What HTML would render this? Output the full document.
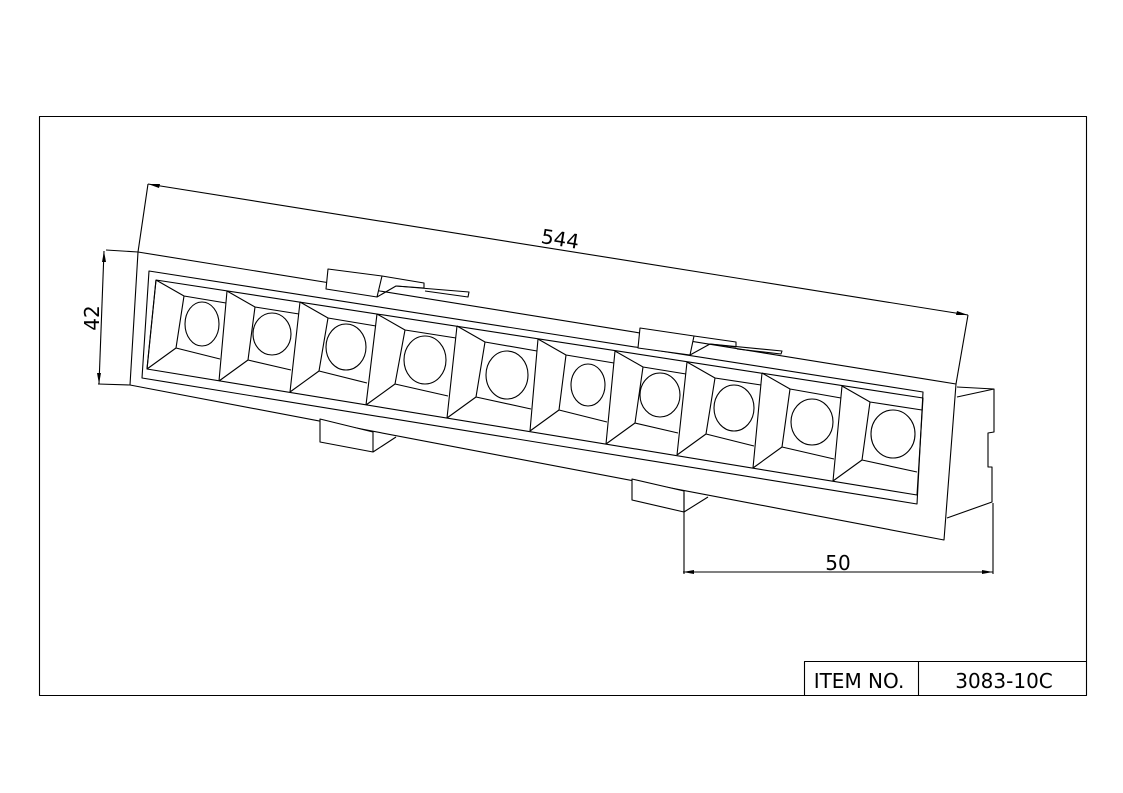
<!DOCTYPE html>
<html><head><meta charset="utf-8"><style>
html,body{margin:0;padding:0;background:#fff;}
svg{display:block;}
text{font-family:"DejaVu Sans","Liberation Sans",sans-serif;fill:#000;}
</style></head><body>
<svg width="1123" height="793" viewBox="0 0 1123 793" xmlns="http://www.w3.org/2000/svg">
<g fill="none" stroke="#000" stroke-width="1.1" stroke-linejoin="round">
<rect x="39.5" y="116.5" width="1047" height="579"/>
<polyline points="804.5,695 804.5,661.5 1086,661.5"/>
<line x1="918.5" y1="661.5" x2="918.5" y2="695"/>

<polygon points="138,252 956,384 944,540 130,385" fill="#fff"/>
<polygon points="149,271 923,392 917,504 142,378"/>
<polygon points="156,280 923,398 917,495 147,369"/>

<polyline points="957,387 994,389 994,432 988,433 988,467 992,467 992,502 947,518"/>
<line x1="957" y1="397" x2="994" y2="389"/>

<polygon points="328,269 382,276 377,297 326,289" fill="#fff"/>
<polyline points="382,276 424,283 424,288 396,286 377,297"/>
<polyline points="396,286 469,292 468,297 425,291"/>
<polygon points="640,328 694,336 690,355 638,348" fill="#fff"/>
<polyline points="694,336 736,342 736,347 710,344 690,355"/>
<polyline points="710,344 782,351 781,354 737,349"/>

<polygon points="320,419 373,432 373,452 320,442" fill="#fff"/>
<line x1="373" y1="452" x2="396" y2="437"/>
<polygon points="632,479 684,491 684,512 632,500" fill="#fff"/>
<line x1="684" y1="512" x2="708" y2="497"/>

<g>
<path d="M156,280L147,369M156,280L184,296L176,348L147,369M184,296L226,303M176,348L220,359"/>
<ellipse cx="202" cy="324" rx="17" ry="22"/>
<path d="M227,291L219,381M227,291L255,307L248,360L219,381M255,307L299,314M248,360L291,370"/>
<ellipse cx="272" cy="334" rx="19" ry="21"/>
<path d="M300,302L290,392M300,302L328,318L319,371L290,392M328,318L376,326M319,371L367,383"/>
<ellipse cx="346" cy="347" rx="20" ry="23"/>
<path d="M377,314L366,405M377,314L405,330L395,384L366,405M405,330L456,338M395,384L448,396"/>
<ellipse cx="425" cy="360" rx="21" ry="24"/>
<path d="M457,326L447,418M457,326L485,342L476,397L447,418M485,342L537,351M476,397L531,409"/>
<ellipse cx="507" cy="375" rx="21" ry="24"/>
<path d="M538,339L530,431M538,339L566,355L559,410L530,431M566,355L614,363M559,410L607,422"/>
<ellipse cx="588" cy="385" rx="17" ry="21"/>
<path d="M615,351L606,444M615,351L643,367L635,423L606,444M643,367L686,374M635,423L678,433"/>
<ellipse cx="660" cy="395" rx="20" ry="22"/>
<path d="M687,362L677,455M687,362L715,378L706,434L677,455M715,378L761,385M706,434L754,446"/>
<ellipse cx="734" cy="408" rx="20" ry="23"/>
<path d="M762,373L753,468M762,373L790,389L782,447L753,468M790,389L841,398M782,447L834,459"/>
<ellipse cx="812" cy="422" rx="21" ry="23"/>
<path d="M842,386L833,481M842,386L870,402L862,460L833,481M870,402L922,410M862,460L917,472"/>
<ellipse cx="893" cy="434" rx="22" ry="24"/>
</g>

<line x1="148" y1="184" x2="138" y2="252"/>
<line x1="968" y1="315" x2="956" y2="384"/>
<line x1="148" y1="184" x2="968" y2="315"/>
<line x1="106" y1="250" x2="138" y2="252"/>
<line x1="98" y1="384" x2="130" y2="385"/>
<line x1="104" y1="251" x2="99" y2="384"/>
<line x1="684" y1="493" x2="684" y2="574"/>
<line x1="993" y1="503" x2="993" y2="574"/>
<line x1="683" y1="572" x2="993" y2="572"/>
</g>
<g fill="#000">
<polygon points="148,184 160,184 159,188"/>
<polygon points="968,315 956,315 957,311"/>
<polygon points="104,251 102,262 106,262"/>
<polygon points="99,384 97,373 101,373"/>
<polygon points="683,572 694,570 694,574"/>
<polygon points="993,572 982,570 982,574"/>
</g>
<text x="560" y="246" font-size="20" text-anchor="middle" transform="rotate(9.1 560 240)">544</text>
<text x="0" y="0" font-size="20" text-anchor="middle" transform="translate(99 318) rotate(-90)">42</text>
<text x="838" y="570" font-size="20" text-anchor="middle">50</text>
<text x="859" y="688" font-size="20" text-anchor="middle">ITEM NO.</text>
<text x="1004" y="688" font-size="20" text-anchor="middle">3083-10C</text>
</svg>
</body></html>
